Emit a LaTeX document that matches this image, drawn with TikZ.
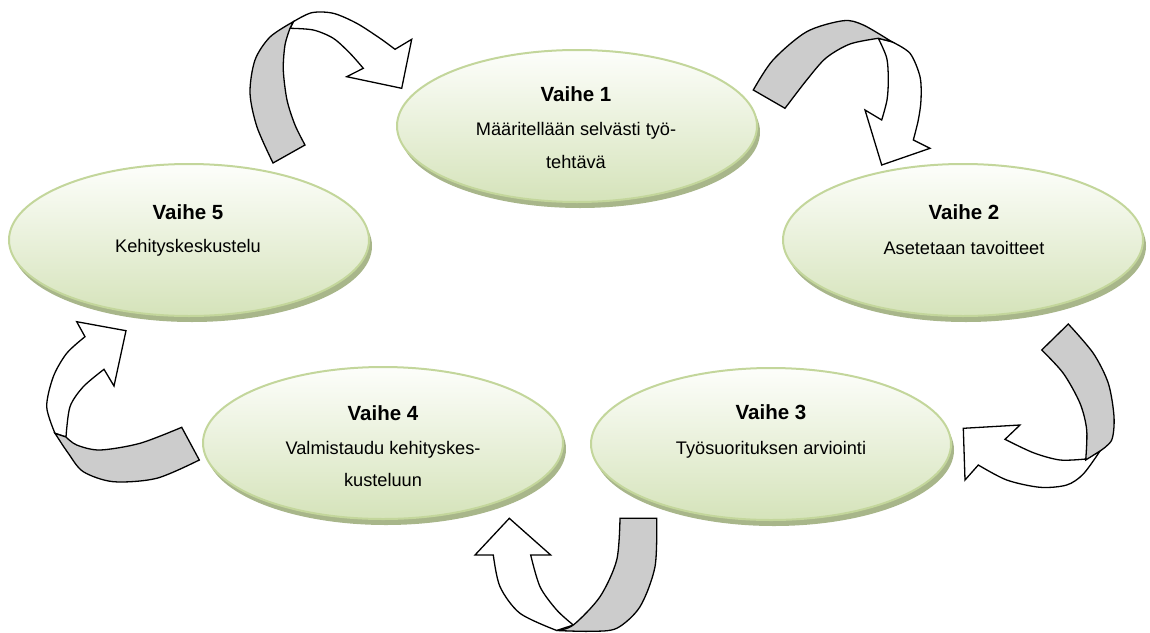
\documentclass[tikz,border=0pt]{standalone}
\usepackage{fontspec}
\setmainfont{Liberation Sans}
\usetikzlibrary{shapes.geometric}
\definecolor{gline}{RGB}{195,214,155}
\definecolor{gbot}{RGB}{213,227,186}
\definecolor{gtop}{RGB}{253,254,251}
\definecolor{gshadow}{RGB}{168,182,138}
\definecolor{bandgray}{RGB}{204,204,204}
\begin{document}
\begin{tikzpicture}[x=1pt,y=-1pt,
  stage/.style={ellipse, minimum width=360pt, minimum height=152pt, inner sep=0pt, draw=gline, line width=2pt, top color=gtop, bottom color=gbot},
  shadowel/.style={ellipse, minimum width=360pt, minimum height=152pt, inner sep=0pt, fill=gshadow},
  titletxt/.style={anchor=base, inner sep=0pt, font=\fontsize{20.5}{24}\selectfont\bfseries},
  bodytxt/.style={anchor=base, inner sep=0pt, font=\fontsize{18.2}{22}\selectfont},
  bandpart/.style={fill=bandgray, draw=black, line width=1.3pt},
  headpart/.style={fill=white, draw=black, line width=1.3pt}]
\useasboundingbox (0,0) rectangle (1150,632);

% shadows
\node[shadowel] (s1) at (580,132) {};
\node[shadowel] (s2) at (966,246) {};
\node[shadowel] (s5) at (192,246) {};
\node[shadowel] (s4) at (386,449) {};
\node[shadowel] (s3) at (774,450) {};

% ellipses
\node[stage] (e1) at (577,126) {};
\node[stage] (e2) at (963,240) {};
\node[stage] (e5) at (189,240) {};
\node[stage] (e4) at (383,443) {};
\node[stage] (e3) at (771,444) {};

% texts
\node[titletxt] (t1) at (576,101.7) {Vaihe 1};
\node[bodytxt] (t1a) at (576,135) {Määritellään selvästi työ-};
\node[bodytxt] (t1b) at (576,168.3) {tehtävä};
\node[titletxt] (t2) at (964,219) {Vaihe 2};
\node[bodytxt] (t2a) at (964,254) {Asetetaan tavoitteet};
\node[titletxt] (t5) at (188,219) {Vaihe 5};
\node[bodytxt] (t5a) at (188,252.7) {Kehityskeskustelu};
\node[titletxt] (t4) at (383,420) {Vaihe 4};
\node[bodytxt] (t4a) at (383,454) {Valmistaudu kehityskes-};
\node[bodytxt] (t4b) at (383,486) {kusteluun};
\node[titletxt] (t3) at (771,419.3) {Vaihe 3};
\node[bodytxt] (t3a) at (771,454) {Työsuorituksen arviointi};

% Arrow A (5 -> 1)
\filldraw[headpart] (293.3,21.7) -- plot[smooth] coordinates {(293.3,21.7) (311.7,12.7) (333.3,13.3) (356.7,23.3) (380,38.3) (395,49.3)} -- (411.7,39.3) -- (401.7,88.3) -- (346.7,76.7) -- (363.3,68.3) -- plot[smooth] coordinates {(363.3,68.3) (350,53.3) (333.3,38.3) (313.3,30) (290,28.3)} -- cycle;
\filldraw[bandpart] (273,163) -- plot[smooth] coordinates {(273,163) (257,127) (250,93) (255,60) (270,37) (293.3,21.7)} -- (290,28.3) -- plot[smooth] coordinates {(290,28.3) (285,45) (283.3,70) (287,100) (295,125) (305,145)} -- cycle;

% Arrow B (1 -> 2)
\filldraw[headpart] (891.7,41.7) -- plot[smooth] coordinates {(891.7,41.7) (910,53.3) (920,76.7) (921,100) (918.3,120) (913.3,140)} -- (930,148.3) -- (881.7,165) -- (865,110) -- (881.7,120) -- plot[smooth] coordinates {(881.7,120) (887,100) (888.3,80) (886.7,58) (878.3,38.3)} -- cycle;
\filldraw[bandpart] (753.3,90) -- plot[smooth] coordinates {(753.3,90) (773,60) (806.7,31.7) (843.3,20.7) (863.3,25) (891.7,41.7)} -- (878.3,38.3) -- plot[smooth] coordinates {(878.3,38.3) (850,44) (826,58) (806.7,80) (785,108.3)} -- cycle;

% Arrow C (2 -> 3)
\filldraw[headpart] (963.3,428.3) -- (1020,425) -- (1005,439.3) -- plot[smooth] coordinates {(1005,439.3) (1033.3,452.7) (1060,460) (1085.7,459)} -- (1100,451) -- plot[smooth] coordinates {(1100,451) (1083.3,474) (1066.7,485) (1040,487.3) (1006.7,480) (978.3,465)} -- (965,480) -- cycle;
\filldraw[bandpart] (1041.7,350) -- (1068.3,324) -- plot[smooth] coordinates {(1068.3,324) (1093.3,353.3) (1108.3,383.3) (1114,416.7) (1111.7,440) (1100,451)} -- (1085.7,460) -- plot[smooth] coordinates {(1085.7,460) (1086.7,430) (1080,403.3) (1063.3,373.3) (1041.7,350)} -- cycle;

% Arrow D (3 -> 4)
\filldraw[headpart] (556.7,630.5) -- plot[smooth] coordinates {(556.7,630.5) (520,613.3) (500,586.7) (493.3,555)} -- (475,555) -- (509.3,518.3) -- (550.7,555) -- (530.7,555) -- plot[smooth] coordinates {(530.7,555) (540,586.7) (556.7,610) (573.3,625)} -- cycle;
\filldraw[bandpart] (620,518.3) -- (656.7,518.3) -- plot[smooth] coordinates {(656.7,518.3) (655,566.7) (640,606.7) (616.7,628.3) (590,631.3) (556.7,630.5)} -- plot[smooth] coordinates {(556.7,630.5) (573.3,625) (600,596.7) (616.7,560) (620,518.3)} -- cycle;

% Arrow E (4 -> 5)
\filldraw[headpart] (55,433.3) -- plot[smooth] coordinates {(55,433.3) (46.7,406.7) (53.3,376.7) (66.7,353.3) (85,336.7)} -- (76.7,321.7) -- (126,330.7) -- (114,386) -- (104,369.3) -- plot[smooth] coordinates {(104,369.3) (83.3,386.7) (70,406.7) (66,437)} -- cycle;
\filldraw[bandpart] (181.7,427.3) -- (199.3,460) -- plot[smooth] coordinates {(199.3,460) (156.7,478.3) (113.3,481.7) (83.3,471.7) (68.3,453.3) (55,433.3)} -- (66,437) -- plot[smooth] coordinates {(66,437) (76.7,445) (100,450) (140,443.3) (181.7,427.3)} -- cycle;
\end{tikzpicture}
\end{document}
